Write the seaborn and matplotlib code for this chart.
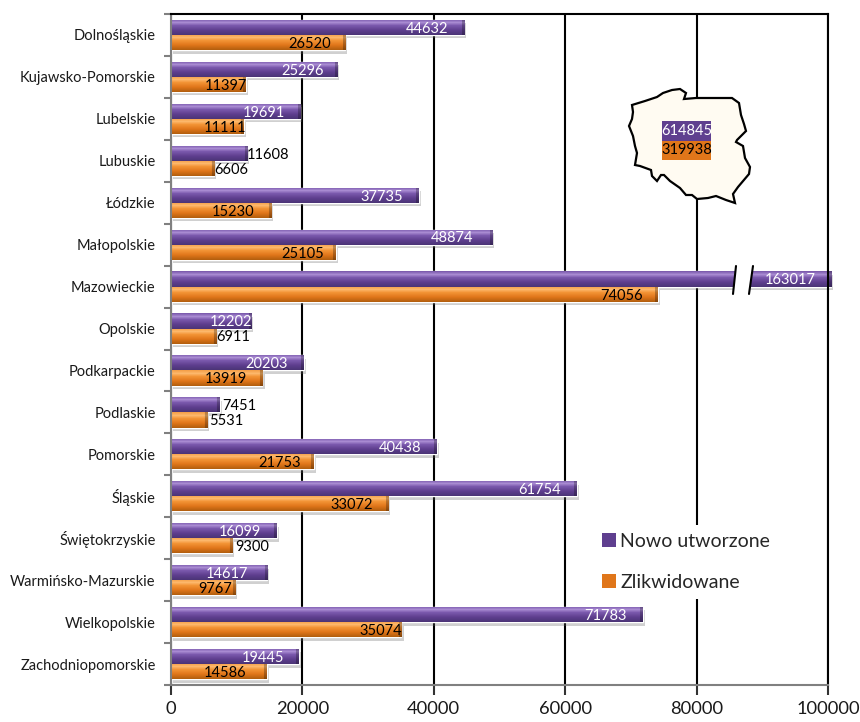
import numpy as np
import pandas as pd
import seaborn as sns
import matplotlib.pyplot as plt
import matplotlib.patheffects as pe
from matplotlib.colors import LinearSegmentedColormap
from matplotlib.patches import Patch, Polygon, Rectangle

regions = ['Dolnośląskie', 'Kujawsko-Pomorskie', 'Lubelskie', 'Lubuskie', 'Łódzkie', 'Małopolskie',
           'Mazowieckie', 'Opolskie', 'Podkarpackie', 'Podlaskie', 'Pomorskie', 'Śląskie',
           'Świętokrzyskie', 'Warmińsko-Mazurskie', 'Wielkopolskie', 'Zachodniopomorskie']
created = [44632, 25296, 19691, 11608, 37735, 48874, 163017, 12202,
           20203, 7451, 40438, 61754, 16099, 14617, 71783, 19445]
closed = [26520, 11397, 11111, 6606, 15230, 25105, 74056, 6911,
          13919, 5531, 21753, 33072, 9300, 9767, 35074, 14586]
series_names = ['Nowo utworzone', 'Zlikwidowane']
total_created = '614845'
total_closed = '319938'
x_ticks = [0, 20000, 40000, 60000, 80000, 100000]

# label shift from the end of the bar, in pixels (hand placed like in the original)
created_shift = [-37, -35, -36, 21, -37, -40, 0, -20, -37, 19, -37, -37, -37, -40, -37, -36]
closed_shift = [-36, -20, -19, 17, -38, -33, -36, 17, -37, 19, -34, -37, 20, -20, -21, -42]

# outline of the map, pixels of the figure
poland = [(632, 105), (645, 101), (657, 97), (663, 93), (672, 90), (680, 89), (686, 93), (684, 99),
          (696, 98), (712, 98), (732, 98), (739, 103), (741, 115), (744, 124), (746, 131), (745, 132),
          (737, 140), (736, 142), (743, 146), (745, 158), (750, 167), (749, 174), (738, 187), (733, 194),
          (735, 203), (726, 200), (716, 196), (708, 198), (697, 199), (692, 195), (686, 195), (680, 188),
          (670, 181), (664, 175), (661, 175), (657, 181), (652, 176), (651, 170), (640, 166), (635, 165),
          (637, 153), (635, 146), (633, 136), (629, 126), (632, 119), (633, 112)]

W, H = 860, 722

sns.set_theme(style='white')
plt.rcParams['font.family'] = ['Lato', 'DejaVu Sans']

df = pd.DataFrame({'region': regions * 2,
                   'count': created + closed,
                   'kind': [series_names[0]] * 16 + [series_names[1]] * 16})

fig, ax = plt.subplots(figsize=(W / 100, H / 100), dpi=100)
fig.subplots_adjust(left=171 / W, right=828 / W, top=1 - 14 / H, bottom=1 - 685 / H)

colors = ['#5f3f8f', '#e0761a']
sns.barplot(data=df, y='region', x='count', hue='kind', palette=colors, width=0.72, gap=0,
            saturation=1, legend=False, ax=ax)

ax.set_axisbelow(True)
ax.grid(axis='x', color='black', lw=1.5)
ax.grid(axis='y', visible=False)
ax.set_xlabel('')
ax.set_ylabel('')

# bevel look of the bars
bevels = [LinearSegmentedColormap.from_list('purple', [(0, '#7d5cae'), (0.2, '#a98bd2'), (0.4, '#7b59ad'),
                                                       (0.7, '#5f3f8f'), (1, '#4d3578')]),
          LinearSegmentedColormap.from_list('orange', [(0, '#f4a04a'), (0.2, '#fdb86c'), (0.4, '#f39436'),
                                                       (0.7, '#e0761a'), (1, '#b5600f')])]
shadow = [pe.SimplePatchShadow(offset=(1.5, -2.5), shadow_rgbFace='#666666', alpha=0.3), pe.Normal()]
for container, cmap in zip(ax.containers, bevels):
    for bar in container:
        right = min(bar.get_width(), 100500)
        bar.set_width(right)
        bar.set_clip_on(False)
        bar.set_path_effects(shadow)
        y0, y1 = bar.get_y(), bar.get_y() + bar.get_height()
        cols = max(int(right * 657 / 100000), 4)
        shade = np.tile(np.linspace(0, 1, 16)[:, None], (1, cols))
        rgb = cmap(shade)
        rgb[:, -3:, :3] *= 0.75
        img = ax.imshow(rgb, extent=(0, right, y1, y0), aspect='auto', zorder=bar.get_zorder() + 0.1,
                        interpolation='bilinear')
        img.set_clip_path(bar)
ax.set_xlim(0, 100000)
ax.set_ylim(15.5, -0.5)

# value labels
for i, bar in enumerate(ax.containers[0]):
    if created[i] > 100000:
        continue
    color = 'black' if created_shift[i] > 0 else 'white'
    ax.annotate(str(created[i]), (created[i], bar.get_y() + bar.get_height() / 2),
                xytext=(created_shift[i] * 0.72, -1), textcoords='offset points',
                ha='center', va='center', fontsize=10.5, color=color, zorder=6)
for i, bar in enumerate(ax.containers[1]):
    ax.annotate(str(closed[i]), (closed[i], bar.get_y() + bar.get_height() / 2),
                xytext=(closed_shift[i] * 0.72, -1), textcoords='offset points',
                ha='center', va='center', fontsize=10.5, color='black', zorder=6)

# axis break on the long bar
fx = lambda px: px / W
fy = lambda px: 1 - px / H
fig.add_artist(Polygon([(fx(736), fy(266)), (fx(753), fy(266)), (fx(749), fy(294)), (fx(733), fy(294))],
                       closed=True, fc='white', ec='none', zorder=7))
for a, b in [(736, 733), (753, 749)]:
    fig.add_artist(plt.Line2D([fx(a), fx(b)], [fy(266), fy(294)], color='black', lw=1.5, zorder=8))
fig.text(fx(790), fy(280), str(created[6]), color='white', fontsize=10.5, ha='center', va='center', zorder=9)

# map with the totals
fig.add_artist(Polygon([(fx(x), fy(y)) for x, y in poland], closed=True, fc='#fffbf2', ec='black',
                       lw=1.6, zorder=5))
fig.add_artist(Rectangle((fx(662), fy(141)), 49 / W, 20 / H, fc='#5f3f8f', ec='none', zorder=6))
fig.add_artist(Rectangle((fx(662), fy(160)), 49 / W, 19 / H, fc='#e0761a', ec='none', zorder=6))
fig.text(fx(686.5), fy(131), total_created, color='white', fontsize=10.5, ha='center', va='center', zorder=7)
fig.text(fx(686.5), fy(150.5), total_closed, color='black', fontsize=10.5, ha='center', va='center', zorder=7)

# ticks: labels sit in the middle of a category, marks on the borders
ax.set_yticks(np.arange(-0.5, 16, 1))
ax.set_yticklabels([])
ax.set_yticks(np.arange(16), labels=regions, minor=True)
ax.tick_params(axis='y', which='major', length=5, width=1.5, color='#808080', left=True)
ax.tick_params(axis='y', which='minor', length=0, labelsize=10.5, pad=11, labelcolor='#1a1a1a')
ax.set_xticks(x_ticks)
ax.tick_params(axis='x', length=7, width=1.5, color='#333333', bottom=True, labelsize=13.2, pad=4.5,
               labelcolor='#1a1a1a')

for side, color in [('top', 'black'), ('right', 'black'), ('left', '#808080'), ('bottom', '#808080')]:
    ax.spines[side].set_visible(True)
    ax.spines[side].set_color(color)
    ax.spines[side].set_linewidth(1.5)

handles = [Patch(fc=c, ec='none') for c in colors]
leg = ax.legend(handles, series_names, loc='lower left', bbox_to_anchor=(0.63, 0.114), frameon=True,
                framealpha=1, facecolor='white', edgecolor='none', fontsize=14, labelspacing=1.25,
                handlelength=0.72, handleheight=0.72, handletextpad=0.2, borderpad=0.4, fancybox=False)
leg.set_zorder(5)

plt.savefig('out.png', dpi=100)
